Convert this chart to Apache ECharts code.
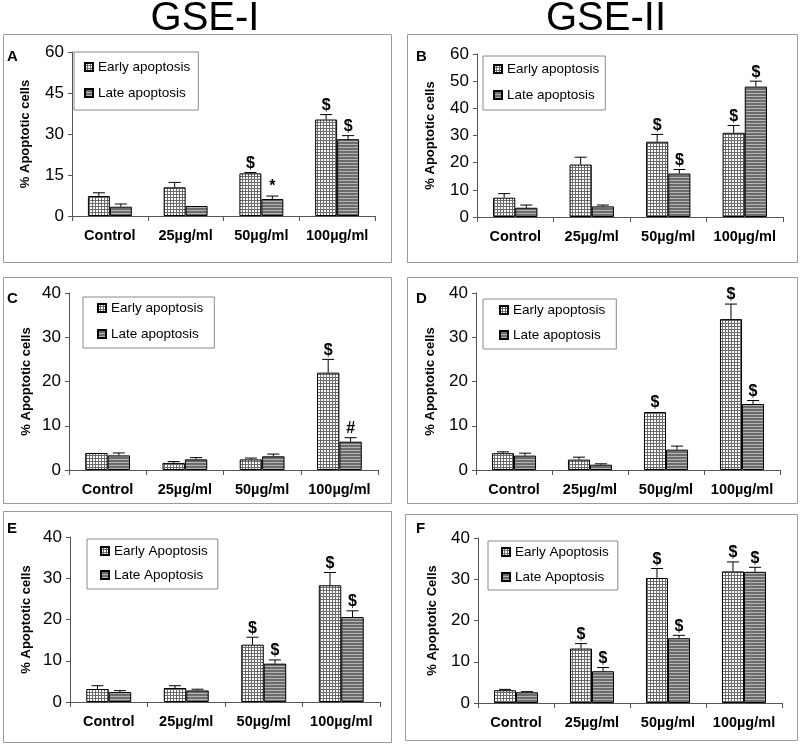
<!DOCTYPE html>
<html><head><meta charset="utf-8">
<script src="https://cdn.jsdelivr.net/npm/echarts@6/dist/echarts.min.js"></script>
<style>html,body{margin:0;padding:0;background:#fff}#c{width:800px;height:744px}</style>
</head><body><div id="c"></div>
<script>
// ---------- data ----------
const categories = ['Control', '25µg/ml', '50µg/ml', '100µg/ml'];
const columnTitles = ['GSE-I', 'GSE-II'];

const aEarly = [7.3, 10.5, 15.6, 35.3];
const aEarlyErr = [1.2, 1.8, 0.3, 1.8];
const aLate = [3.4, 3.65, 6.2, 28.1];
const aLateErr = [1.0, 0, 1.1, 1.3];
const aEarlyMarks = ['', '', '$', '$'];
const aLateMarks = ['', '', '*', '$'];

const bEarly = [7.1, 19.3, 27.7, 31.0];
const bEarlyErr = [1.5, 2.7, 2.7, 2.7];
const bLate = [3.4, 3.9, 16.0, 48.0];
const bLateErr = [1.0, 0.5, 1.5, 2.0];
const bEarlyMarks = ['', '', '$', '$'];
const bLateMarks = ['', '', '$', '$'];

const cEarly = [3.85, 1.6, 2.4, 22.0];
const cEarlyErr = [0, 0.3, 0.3, 3.0];
const cLate = [3.3, 2.4, 3.1, 6.4];
const cLateErr = [0.55, 0.4, 0.5, 0.9];
const cEarlyMarks = ['', '', '', '$'];
const cLateMarks = ['', '', '', '#'];

const dEarly = [3.8, 2.35, 13.1, 34.1];
const dEarlyErr = [0.3, 0.55, 0, 3.4];
const dLate = [3.25, 1.2, 4.6, 14.9];
const dLateErr = [0.55, 0.2, 0.8, 0.8];
const dEarlyMarks = ['', '', '$', '$'];
const dLateMarks = ['', '', '', '$'];

const eEarly = [3.15, 3.4, 13.9, 28.3];
const eEarlyErr = [0.8, 0.55, 1.8, 3.1];
const eLate = [2.4, 2.8, 9.3, 20.6];
const eLateErr = [0.35, 0.3, 0.9, 1.5];
const eEarlyMarks = ['', '', '$', '$'];
const eLateMarks = ['', '', '$', '$'];

const fEarly = [3.1, 13.2, 30.3, 31.9];
const fEarlyErr = [0.2, 1.2, 2.3, 2.3];
const fLate = [2.6, 7.7, 15.7, 31.8];
const fLateErr = [0.15, 0.9, 0.7, 1.1];
const fEarlyMarks = ['', '$', '$', '$'];
const fLateMarks = ['', '$', '$', '$'];

const legendNamesLower = ['Early apoptosis', 'Late apoptosis'];
const legendNamesUpper = ['Early Apoptosis', 'Late Apoptosis'];

// ---------- styles / layout ----------
const FONT = 'Liberation Sans, Arial, Helvetica, sans-serif';

function makeGridPattern() {
  const c = document.createElement('canvas'); c.width = 3; c.height = 3;
  const g = c.getContext('2d');
  g.fillStyle = '#ffffff'; g.fillRect(0, 0, 3, 3);
  g.fillStyle = '#6a6a6a'; g.fillRect(2, 0, 1, 3); g.fillRect(0, 2, 3, 1);
  return c;
}
function makeStripePattern() {
  const c = document.createElement('canvas'); c.width = 3; c.height = 3;
  const g = c.getContext('2d');
  g.fillStyle = '#6c6c6c'; g.fillRect(0, 0, 3, 3);
  g.fillStyle = '#b4b4b4'; g.fillRect(0, 0, 3, 1);
  return c;
}
const earlyFill = { image: makeGridPattern(), repeat: 'repeat' };
const lateFill = { image: makeStripePattern(), repeat: 'repeat' };

const panels = [
  { letter: 'A', early: aEarly, earlyErr: aEarlyErr, late: aLate, lateErr: aLateErr, em: aEarlyMarks, lm: aLateMarks,
    yMax: 60, yInt: 15, yName: '% Apoptotic cells', names: legendNamesLower,
    grid: { left: 72, top: 52, width: 303, height: 164 }, nameGap: 40,
    box: [3, 34, 388, 228], legend: { left: 74, top: 52, padding: [8, 8, 10, 10], gap: 12 }, letterPos: [7, 49] },
  { letter: 'B', early: bEarly, earlyErr: bEarlyErr, late: bLate, lateErr: bLateErr, em: bEarlyMarks, lm: bLateMarks,
    yMax: 60, yInt: 10, yName: '% Apoptotic cells', names: legendNamesLower,
    grid: { left: 477, top: 54, width: 306, height: 163 }, nameGap: 40,
    box: [407, 34, 390, 228], legend: { left: 483, top: 56, padding: [6, 6, 8, 10], gap: 12 }, letterPos: [416, 49] },
  { letter: 'C', early: cEarly, earlyErr: cEarlyErr, late: cLate, lateErr: cLateErr, em: cEarlyMarks, lm: cLateMarks,
    yMax: 40, yInt: 10, yName: '% Apoptotic cells', names: legendNamesLower,
    grid: { left: 69, top: 293, width: 309, height: 177 }, nameGap: 36,
    box: [3, 277, 388, 226], legend: { left: 83, top: 297, padding: [4, 11, 7, 14], gap: 12 }, letterPos: [7, 291] },
  { letter: 'D', early: dEarly, earlyErr: dEarlyErr, late: dLate, lateErr: dLateErr, em: dEarlyMarks, lm: dLateMarks,
    yMax: 40, yInt: 10, yName: '% Apoptotic cells', names: legendNamesLower,
    grid: { left: 476, top: 293, width: 304, height: 177 }, nameGap: 39,
    box: [407, 277, 390, 226], legend: { left: 483, top: 299, padding: [4, 11, 7, 16], gap: 11 }, letterPos: [416, 291] },
  { letter: 'E', early: eEarly, earlyErr: eEarlyErr, late: eLate, lateErr: eLateErr, em: eEarlyMarks, lm: eLateMarks,
    yMax: 40, yInt: 10, yName: '% Apoptotic cells', names: legendNamesUpper,
    grid: { left: 70, top: 537, width: 310, height: 165 }, nameGap: 37,
    box: [3, 511, 388, 231], legend: { left: 87, top: 539, padding: [5, 10, 7, 13], gap: 10 }, letterPos: [7, 521] },
  { letter: 'F', early: fEarly, earlyErr: fEarlyErr, late: fLate, lateErr: fLateErr, em: fEarlyMarks, lm: fLateMarks,
    yMax: 40, yInt: 10, yName: '% Apoptotic Cells', names: legendNamesUpper,
    grid: { left: 478, top: 538, width: 304, height: 165 }, nameGap: 39,
    box: [405, 514, 392, 226], legend: { left: 488, top: 541, padding: [4, 9, 6, 13], gap: 11 }, letterPos: [416, 521] }
];

const CAT_GAP = 0.42;

function errRender(vals, errs, marks, side) {
  return function (params, api) {
    const i = params.dataIndex;
    const v = vals[i], e = errs[i], m = marks[i];
    const band = api.size([1, 0])[0];
    const bw = band * (1 - CAT_GAP) / 2;
    const base = api.coord([i, v]);
    const cx = base[0] + side * bw / 2;
    const top = api.coord([i, v + e])[1];
    const children = [];
    if (e > 0) {
      children.push({ type: 'line', shape: { x1: cx, y1: base[1], x2: cx, y2: top }, style: { stroke: '#000', lineWidth: 1 } });
      children.push({ type: 'line', shape: { x1: cx - 6, y1: top, x2: cx + 6, y2: top }, style: { stroke: '#000', lineWidth: 1 } });
    }
    if (m) {
      children.push({ type: 'text', style: { text: m, x: cx, y: top - 1, align: 'center', verticalAlign: 'bottom',
        font: 'bold 16px ' + FONT, fill: '#000' } });
    }
    return { type: 'group', children: children };
  };
}

const option = {
  animation: false,
  backgroundColor: '#fff',
  title: [],
  grid: [], xAxis: [], yAxis: [], legend: [], series: [],
  graphic: []
};

option.title.push({ text: columnTitles[0], left: 200, top: -6, textAlign: 'center',
  textStyle: { fontFamily: FONT, fontSize: 40, fontWeight: 'normal', color: '#000' } });
option.title.push({ text: columnTitles[1], left: 601, top: -6, textAlign: 'center',
  textStyle: { fontFamily: FONT, fontSize: 40, fontWeight: 'normal', color: '#000' } });

panels.forEach(function (p, k) {
  option.graphic.push({ type: 'rect', silent: true, z: -1,
    shape: { x: p.box[0] + 0.5, y: p.box[1] + 0.5, width: p.box[2], height: p.box[3] },
    style: { fill: 'none', stroke: '#9a9a9a', lineWidth: 1 } });
  option.title.push({ text: p.letter, left: p.letterPos[0], top: p.letterPos[1], padding: 0,
    textStyle: { fontFamily: FONT, fontSize: 15, fontWeight: 'bold', color: '#000' } });
  option.grid.push(Object.assign({ containLabel: false }, p.grid));
  option.xAxis.push({ type: 'category', gridIndex: k, data: categories,
    axisLine: { lineStyle: { color: '#555', width: 1 } },
    axisTick: { show: true, length: 5, lineStyle: { color: '#555' } },
    axisLabel: { fontFamily: FONT, fontSize: 14.5, fontWeight: 'bold', color: '#000', margin: 12, interval: 0 } });
  option.yAxis.push({ type: 'value', gridIndex: k, min: 0, max: p.yMax, interval: p.yInt,
    name: p.yName, nameLocation: 'middle', nameGap: p.nameGap,
    nameTextStyle: { fontFamily: FONT, fontSize: 13, fontWeight: 'bold', color: '#000' },
    axisLine: { show: true, lineStyle: { color: '#555', width: 1 } },
    axisTick: { show: true, length: 4, lineStyle: { color: '#555' } },
    splitLine: { show: false },
    axisLabel: { fontFamily: FONT, fontSize: 17, color: '#000', margin: 8 } });
  option.legend.push({ left: p.legend.left, top: p.legend.top, padding: p.legend.padding, orient: 'vertical',
    data: p.names, icon: 'rect', itemWidth: 8, itemHeight: 8, itemGap: p.legend.gap,
    borderColor: '#8a8a8a', borderWidth: 1, backgroundColor: '#fff', selectedMode: false,
    textStyle: { fontFamily: FONT, fontSize: 13.5, color: '#000' } });
  option.series.push({ type: 'bar', name: p.names[0], xAxisIndex: k, yAxisIndex: k, data: p.early,
    barGap: '0%', barCategoryGap: (CAT_GAP * 100) + '%',
    itemStyle: { color: earlyFill, borderColor: '#000', borderWidth: 1 } });
  option.series.push({ type: 'bar', name: p.names[1], xAxisIndex: k, yAxisIndex: k, data: p.late,
    barGap: '0%', barCategoryGap: (CAT_GAP * 100) + '%',
    itemStyle: { color: lateFill, borderColor: '#000', borderWidth: 1 } });
  option.series.push({ type: 'custom', xAxisIndex: k, yAxisIndex: k, silent: true, z: 5,
    data: p.early.map(function (v, i) { return [i, v]; }),
    renderItem: errRender(p.early, p.earlyErr, p.em, -1) });
  option.series.push({ type: 'custom', xAxisIndex: k, yAxisIndex: k, silent: true, z: 5,
    data: p.late.map(function (v, i) { return [i, v]; }),
    renderItem: errRender(p.late, p.lateErr, p.lm, 1) });
});

const chart = echarts.init(document.getElementById('c'), null, { renderer: 'canvas' });
chart.setOption(option);
</script>
</body></html>
